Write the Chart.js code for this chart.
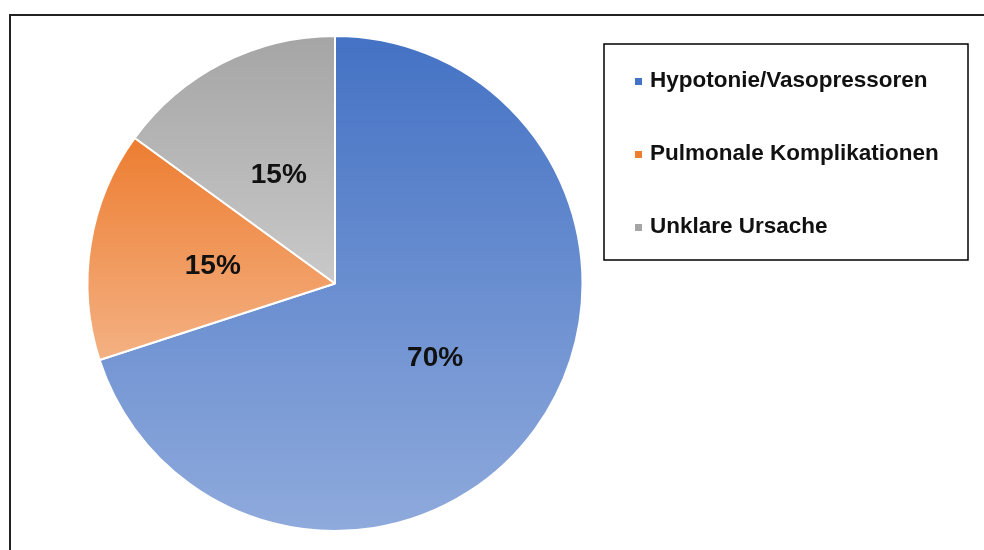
<!DOCTYPE html>
<html>
<head>
<meta charset="utf-8">
<script src="https://cdn.jsdelivr.net/npm/chart.js@4.4.1/dist/chart.umd.min.js"></script>
<style>
  html, body { margin: 0; padding: 0; background: #fff; }
  #wrap { width: 984px; height: 550px; position: relative; }
</style>
</head>
<body>
<div id="wrap"><canvas id="pieChart" width="984" height="550"></canvas></div>
<script>
const categories = ['Hypotonie/Vasopressoren', 'Pulmonale Komplikationen', 'Unklare Ursache'];
const shares = [70, 15, 15];
// top / bottom colour of each slice's vertical fill
const topColors = ['#4472C4', '#ED7D31', '#A5A5A5'];
const bottomColors = ['#8FAADC', '#F4B183', '#C9C9C9'];

const FONT = "'Liberation Sans', Arial, Helvetica, sans-serif";

// per-slice vertical gradient, sized to the slice's own height
const sliceGradients = {
    id: 'sliceGradients',
    beforeDatasetsDraw(chart) {
        const ctx = chart.ctx;
        const meta = chart.getDatasetMeta(0);
        meta.data.forEach((arc, i) => {
            const r = arc.outerRadius;
            const ys = [arc.y, arc.y + r * Math.sin(arc.startAngle), arc.y + r * Math.sin(arc.endAngle)];
            [-Math.PI / 2, Math.PI / 2, 3 * Math.PI / 2].forEach(a => {
                if (a >= arc.startAngle && a <= arc.endAngle) ys.push(arc.y + r * Math.sin(a));
            });
            const g = ctx.createLinearGradient(0, Math.min(...ys), 0, Math.max(...ys));
            g.addColorStop(0, topColors[i]);
            g.addColorStop(1, bottomColors[i]);
            arc.options.backgroundColor = g;
        });
    }
};

// percentage labels in the middle of each slice
const sliceLabels = {
    id: 'sliceLabels',
    afterDatasetsDraw(chart) {
        const ctx = chart.ctx;
        const meta = chart.getDatasetMeta(0);
        ctx.save();
        ctx.font = 'bold 28px ' + FONT;
        ctx.fillStyle = '#111';
        ctx.textAlign = 'center';
        ctx.textBaseline = 'middle';
        meta.data.forEach((arc, i) => {
            const p = arc.getCenterPoint();
            ctx.fillText(shares[i] + '%', p.x, p.y + 2);
        });
        ctx.restore();
    }
};

// outer frame and boxed legend
const frameAndLegend = {
    id: 'frameAndLegend',
    afterDraw(chart) {
        const ctx = chart.ctx;
        ctx.save();
        ctx.strokeStyle = '#222';
        ctx.lineWidth = 2;
        ctx.strokeRect(10, 15, 1000, 600);

        ctx.strokeStyle = '#000';
        ctx.lineWidth = 1.5;
        ctx.strokeRect(604, 44, 364, 216);

        ctx.font = 'bold 22.5px ' + FONT;
        ctx.textAlign = 'left';
        ctx.textBaseline = 'alphabetic';
        categories.forEach((name, i) => {
            const base = 87 + i * 73;
            ctx.fillStyle = topColors[i];
            ctx.fillRect(635, base - 9, 7, 7);
            ctx.fillStyle = '#111';
            ctx.fillText(name, 650, base);
        });
        ctx.restore();
    }
};

new Chart(document.getElementById('pieChart').getContext('2d'), {
    type: 'pie',
    data: {
        labels: categories,
        datasets: [{
            data: shares,
            backgroundColor: topColors,
            borderColor: '#fff',
            borderWidth: 2
        }]
    },
    options: {
        responsive: false,
        animation: false,
        layout: { padding: { left: 85, right: 399, top: 35, bottom: 18 } },
        plugins: {
            legend: { display: false },
            tooltip: { enabled: false }
        }
    },
    plugins: [sliceGradients, sliceLabels, frameAndLegend]
});
</script>
</body>
</html>
